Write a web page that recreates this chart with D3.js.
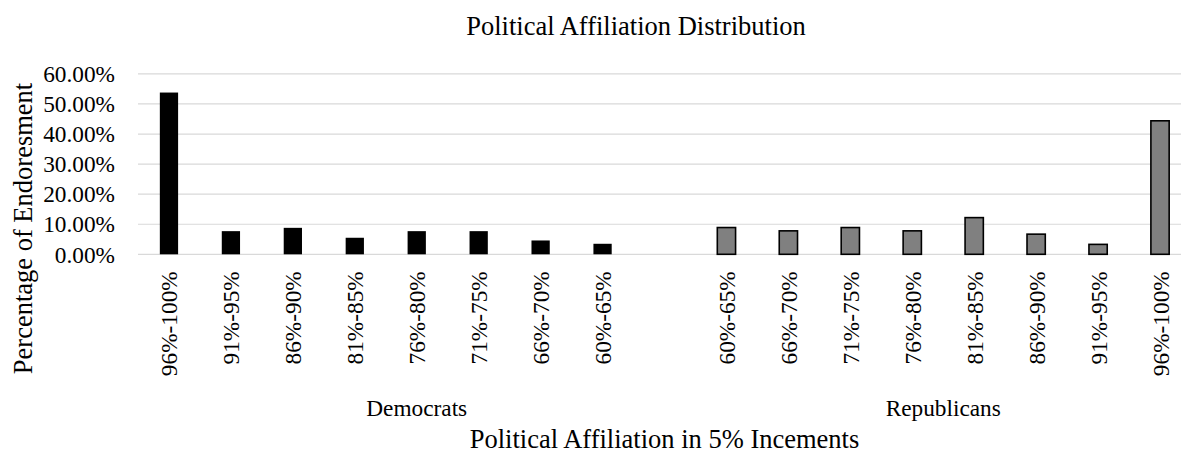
<!DOCTYPE html>
<html>
<head>
<meta charset="utf-8">
<script src="https://cdn.jsdelivr.net/npm/d3@7/dist/d3.min.js"></script>
<style>
  html, body { margin: 0; padding: 0; background: #fff; }
  svg { display: block; }
  text { font-family: "Liberation Serif", "Times New Roman", serif; fill: #000; }
</style>
</head>
<body>
<svg id="chart" width="1181" height="453"></svg>
<script>
// ---- data ----
const chartTitle = "Political Affiliation Distribution";
const xAxisTitle = "Political Affiliation in 5% Incements";
const yAxisTitle = "Percentage of Endoresment";
const groups = ["Democrats", "Republicans"];
const demLabels = ["96%-100%", "91%-95%", "86%-90%", "81%-85%", "76%-80%", "71%-75%", "66%-70%", "60%-65%"];
const demValues = [0.538, 0.077, 0.088, 0.055, 0.077, 0.077, 0.046, 0.035];
const repLabels = ["60%-65%", "66%-70%", "71%-75%", "76%-80%", "81%-85%", "86%-90%", "91%-95%", "96%-100%"];
const repValues = [0.089, 0.078, 0.089, 0.078, 0.122, 0.067, 0.033, 0.444];
const yTicks = [0, 0.1, 0.2, 0.3, 0.4, 0.5, 0.6];

// ---- build category list (Democrats group has a trailing empty slot) ----
const cats = [];
demLabels.forEach((l, i) => cats.push({ id: "D" + i, label: l, value: demValues[i], group: groups[0] }));
cats.push({ id: "D-gap", label: "", value: null, group: groups[0] });
repLabels.forEach((l, i) => cats.push({ id: "R" + i, label: l, value: repValues[i], group: groups[1] }));

const svg = d3.select("#chart");
const plot = { left: 138, right: 1191, top: 73.9, bottom: 254.3 };

const x = d3.scaleBand()
  .domain(cats.map(d => d.id))
  .range([plot.left, plot.right])
  .paddingInner(0.705)
  .paddingOuter(0.3525);

const y = d3.scaleLinear().domain([0, 0.6]).range([plot.bottom, plot.top]);

// gridlines
svg.append("g").selectAll("line").data(yTicks).join("line")
  .attr("x1", plot.left).attr("x2", plot.right)
  .attr("y1", d => y(d)).attr("y2", d => y(d))
  .attr("stroke", "#d9d9d9").attr("stroke-width", 1.2);

// y axis labels
const yAxis = d3.axisLeft(y).tickValues(yTicks).tickFormat(d3.format(".2%")).tickSize(0).tickPadding(0);
const gy = svg.append("g").attr("transform", "translate(115,0)").call(yAxis);
gy.select(".domain").remove();
gy.selectAll("text")
  .attr("x", 0).attr("dy", null).attr("dominant-baseline", "auto")
  .attr("transform", "translate(0,7.7)")
  .style("font-family", '"Liberation Serif", "Times New Roman", serif')
  .style("font-size", "23.3px").attr("fill", "#000");

// bars
const bars = cats.filter(d => d.value != null);
svg.append("g").selectAll("rect").data(bars).join("rect")
  .attr("x", d => x(d.id))
  .attr("width", x.bandwidth())
  .attr("y", d => y(d.value))
  .attr("height", d => y(0) - y(d.value))
  .attr("fill", d => d.group === groups[0] ? "#000000" : "#808080")
  .attr("stroke", d => d.group === groups[0] ? "none" : "#000")
  .attr("stroke-width", 1.6);

// category labels (rotated)
const xAxis = d3.axisBottom(x).tickFormat(id => cats.find(c => c.id === id).label).tickSize(0).tickPadding(0);
const gx = svg.append("g").attr("transform", `translate(0,${plot.bottom})`).call(xAxis);
gx.select(".domain").remove();
gx.selectAll(".tick text")
  .attr("y", 0).attr("dy", null)
  .attr("transform", "translate(8.5,17) rotate(-90)")
  .attr("text-anchor", "end")
  .style("font-family", '"Liberation Serif", "Times New Roman", serif')
  .style("font-size", "23.3px").attr("fill", "#000");

// group labels
const slotStart = id => x(id) - x.step() * x.paddingInner() / 2;
const groupSpans = groups.map(g => {
  const ids = cats.filter(c => c.group === g).map(c => c.id);
  const a = slotStart(ids[0]);
  const b = slotStart(ids[ids.length - 1]) + x.step();
  return { name: g, center: (a + b) / 2 };
});
svg.append("g").selectAll("text").data(groupSpans).join("text")
  .attr("x", d => d.center).attr("y", 415.5)
  .attr("text-anchor", "middle")
  .style("font-size", "23.3px")
  .text(d => d.name);

// titles
svg.append("text").attr("x", 636).attr("y", 35).attr("text-anchor", "middle")
  .style("font-size", "26.5px").text(chartTitle);
svg.append("text").attr("x", (plot.left + plot.right) / 2).attr("y", 447.5).attr("text-anchor", "middle")
  .style("font-size", "26.5px").text(xAxisTitle);
svg.append("text").attr("transform", "translate(31.5,228.5) rotate(-90)").attr("text-anchor", "middle")
  .style("font-size", "26.5px").text(yAxisTitle);
</script>
</body>
</html>
